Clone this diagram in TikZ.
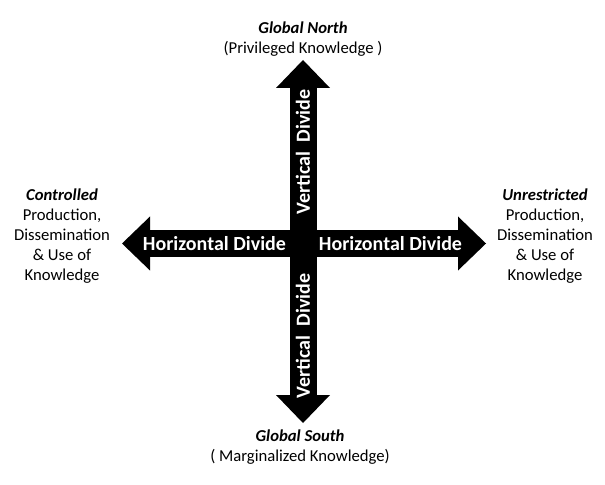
\documentclass[tikz,border=0pt]{standalone}
\usepackage{fontspec}
\setmainfont{Carlito}
\usetikzlibrary{arrows.meta}

\begin{document}
\begin{tikzpicture}[x=0.75pt,y=-0.75pt,
  divide/.style = {line width=20.25pt,{Triangle[length=21pt,width=40.5pt,line width=0pt]}-{Triangle[length=21pt,width=40.5pt,line width=0pt]}},
  divtext/.style = {text=white,font=\fontsize{15}{18}\selectfont\bfseries,inner sep=0pt},
  pole/.style = {align=center,font=\fontsize{12.5}{15}\selectfont,inner sep=0pt}]

\useasboundingbox[fill=white] (0,0) rectangle (605,484);

\coordinate (ntip) at (303,60);
\coordinate (stip) at (303,423);
\coordinate (wtip) at (122,243.5);
\coordinate (etip) at (486,243.5);

\node[pole] (north) at (303,39) {\textbf{\textit{Global North}}\\(Privileged Knowledge )};
\node[pole] (south) at (300,447) {\textbf{\textit{Global South}}\\( Marginalized Knowledge)};
\node[pole] (west) at (62,236) {\textbf{\textit{Controlled}}\\Production,\\Dissemination\\\& Use of\\Knowledge};
\node[pole] (east) at (545,236) {\textbf{\textit{Unrestricted}}\\Production,\\Dissemination\\\& Use of\\Knowledge};

\draw[divide] (wtip) -- (etip);
\draw[divide] (stip) -- (ntip);

\node[divtext] (hwest) at (214.5,243.5) {Horizontal Divide};
\node[divtext] (heast) at (390.5,243.5) {Horizontal Divide};
\node[divtext,rotate=90] (vnorth) at (303,152) {Vertical\ \ Divide};
\node[divtext,rotate=90] (vsouth) at (303,336) {Vertical\ \ Divide};

\end{tikzpicture}
\end{document}
